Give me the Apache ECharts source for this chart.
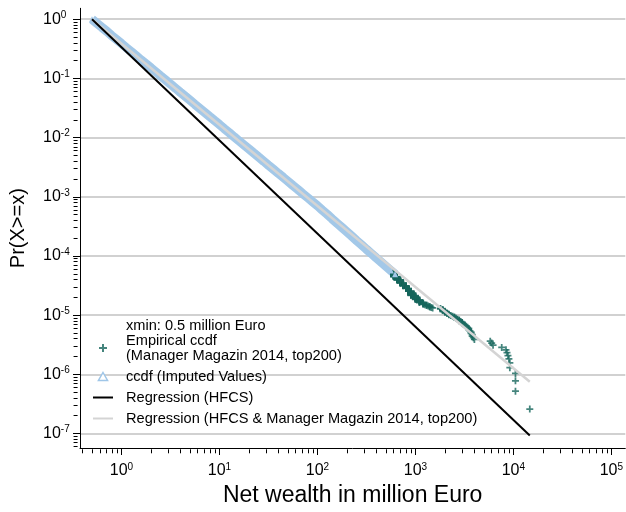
<!DOCTYPE html>
<html><head><meta charset="utf-8">
<script src="https://cdn.jsdelivr.net/npm/echarts@6/dist/echarts.min.js"></script>
<style>html,body{margin:0;padding:0;background:#fff}#c{width:626px;height:512px}</style>
</head><body><div id="c"></div>
<script>
// ---- axis ticks ----
const xMajorTicks = [1, 10, 100, 1000, 10000, 100000];
const yMajorTicks = [1e-7, 1e-6, 1e-5, 1e-4, 1e-3, 1e-2, 1e-1, 1];
const xRange = [0.377, 138700];
const yRange = [5.7e-8, 1.53];

// ---- Empirical ccdf: Manager Magazin 2014 top200 net wealth (million Euro), rank order ----
const mmWealth = [
  14700,
  10500, 10500, 10500,
  9200, 9200, 9000, 8800, 8600, 8400, 7600,
  6200, 6000, 5800,
  4000, 3900, 3800, 3800, 3700, 3700,
  3600, 3500, 3500, 3400, 3300, 3200, 3100, 3000, 3000, 2900,
  2800, 2800, 2700, 2600, 2500, 2500, 2400, 2300, 2200, 2200,
  2100, 2100, 2000, 2000, 2000, 1900, 1900, 1900, 1800, 1800,
  1500, 1450, 1400, 1400, 1350, 1300, 1300, 1250,
  1200, 1200, 1200, 1200,
  1100, 1100, 1100, 1100, 1100, 1100, 1100, 1100,
  1000, 1000, 1000, 1000, 1000, 1000, 1000, 1000, 1000, 1000, 1000, 1000,
  900, 900, 900, 900, 900, 900, 900, 900, 900, 900, 900, 900, 900, 900, 900, 900,
  850, 850, 850, 850, 850, 850, 850, 850, 850, 850,
  800, 800, 800, 800, 800, 800, 800, 800, 800, 800, 800, 800,
  750, 750, 750, 750, 750, 750, 750, 750, 750, 750, 750, 750, 750, 750,
  700, 700, 700, 700, 700, 700, 700, 700, 700, 700, 700, 700, 700, 700, 700, 700, 700,
  650, 650, 650, 650, 650, 650, 650, 650, 650, 650, 650, 650, 650, 650, 650, 650, 650, 650, 650, 650, 650,
  600, 600, 600, 600, 600, 600, 600, 600, 600, 600, 600, 600, 600, 600, 600, 600, 600, 600, 600, 600, 600, 600, 600, 600, 600, 600, 600, 600
];
const hfcsPopulation = 3.85e6; // Pr(X>=x) = rank / population

// ---- ccdf of imputed HFCS values ----
const imputedWealth = [0.5, 0.56, 0.63, 0.71, 0.79, 0.89, 1, 1.12, 1.26, 1.41, 1.58, 1.78, 2, 2.24, 2.51, 2.82, 3.16, 3.55, 3.98, 4.47,
  5.01, 5.62, 6.31, 7.08, 7.94, 8.91, 10, 11.2, 12.6, 14.1, 15.8, 17.8, 20, 22.4, 25.1, 28.2, 31.6, 35.5, 39.8, 44.7,
  50.1, 56.2, 63.1, 70.8, 79.4, 89.1, 100, 112, 126, 141, 158, 178, 200, 224, 251, 282, 316, 355, 398, 447, 501, 562, 620];
const imputedCcdf = [1.0, 0.854, 0.729, 0.623, 0.532, 0.454, 0.388, 0.331, 0.283, 0.242, 0.206, 0.176, 0.151, 0.129, 0.110, 0.0939, 0.0802, 0.0685, 0.0585, 0.0499,
  0.0427, 0.0364, 0.0311, 0.0266, 0.0227, 0.0194, 0.0166, 0.01414, 0.01208, 0.01031, 0.00881, 0.00752, 0.00643, 0.00549, 0.00469, 0.00400, 0.00342, 0.00292, 0.00249, 0.00213,
  0.00182, 0.00155, 0.00133, 0.00113, 0.000968, 0.000827, 0.000706, 0.000596, 0.000504, 0.000425, 0.000359, 0.000303, 0.000256, 0.000216, 0.000182, 0.000154, 0.000130, 0.000110, 0.0000927, 0.0000786, 0.0000667, 0.0000567, 0.0000492];

// ---- regression lines ----
const regWealth = [0.5, 14700];
const regHfcs = [1, 9.3e-8];
const regHfcsMm = [1, 7.5e-7];

const nameEmp = 'Empirical ccdf\n(Manager Magazin 2014, top200)';
const nameImp = 'ccdf (Imputed Values)';
const nameReg1 = 'Regression (HFCS)';
const nameReg2 = 'Regression (HFCS & Manager Magazin 2014, top200)';
const xminNote = 'xmin: 0.5 million Euro';

const fontFam = '"Liberation Sans", Arial, sans-serif';
const plusPath = 'path://M3,0H5V3H8V5H5V8H3V5H0V3H3Z';
const triPath = 'path://M4,0L8,7H0Z';
const linePath = 'path://M0,0H20V2H0Z';

function minorTicks(lo, hi) {
  const out = [];
  for (let e = Math.floor(Math.log10(lo)); e <= Math.ceil(Math.log10(hi)); e++) {
    for (let m = 2; m <= 9; m++) {
      const v = m * Math.pow(10, e);
      if (v >= lo && v <= hi) out.push(v);
    }
  }
  return out;
}
const supLabel = v => '{b|10}{s|' + Math.round(Math.log10(v)) + '}';
const richLbl = {
  b: { fontSize: 16, fontFamily: fontFam, color: '#000' },
  s: { fontSize: 10, fontFamily: fontFam, color: '#000', padding: [0, 0, 8, 0] }
};

const W = 626, H = 512;
const gL = 78.3, gR = 0, gT = 8.3, gB = 62.7;
const plotW = W - gL - gR, plotH = H - gT - gB;

const chart = echarts.init(document.getElementById('c'), null, { renderer: 'canvas' });
chart.setOption({
  animation: false,
  backgroundColor: '#fff',
  grid: { left: gL, right: gR, top: gT, bottom: gB, containLabel: false },
  xAxis: [{
    type: 'log', logBase: 10, min: xRange[0], max: xRange[1], position: 'bottom',
    name: 'Net wealth in million Euro', nameLocation: 'middle', nameGap: 36,
    nameTextStyle: { fontSize: 23, fontFamily: fontFam, color: '#000' },
    axisLine: { show: true, lineStyle: { color: '#000', width: 1 } },
    axisTick: { show: true, length: 7, customValues: xMajorTicks, lineStyle: { color: '#000', width: 1 } },
    axisLabel: { customValues: xMajorTicks, formatter: supLabel, margin: 14, rich: richLbl },
    splitLine: { show: false }
  }, {
    type: 'log', logBase: 10, min: xRange[0], max: xRange[1], position: 'top', offset: -plotH,
    axisLine: { show: false },
    axisTick: { show: true, inside: true, length: 4, customValues: minorTicks(xRange[0], xRange[1]), lineStyle: { color: '#000', width: 1 } },
    axisLabel: { show: false }, splitLine: { show: false }
  }],
  yAxis: [{
    type: 'log', logBase: 10, min: yRange[0], max: yRange[1], position: 'left',
    name: 'Pr(X>=x)', nameLocation: 'middle', nameGap: 52,
    nameTextStyle: { fontSize: 20, fontFamily: fontFam, color: '#000' },
    axisLine: { show: true, lineStyle: { color: '#000', width: 1 } },
    axisTick: { show: true, length: 7, customValues: yMajorTicks, lineStyle: { color: '#000', width: 1 } },
    axisLabel: { customValues: yMajorTicks, formatter: supLabel, margin: 37, align: 'left', rich: richLbl },
    splitLine: { show: true, lineStyle: { color: '#c2c2c2', width: 1.5 } }
  }, {
    type: 'log', logBase: 10, min: yRange[0], max: yRange[1], position: 'right', offset: -plotW,
    axisLine: { show: false },
    axisTick: { show: true, inside: true, length: 4, customValues: minorTicks(yRange[0], yRange[1]), lineStyle: { color: '#000', width: 1 } },
    axisLabel: { show: false }, splitLine: { show: false }
  }],
  legend: {
    orient: 'vertical', left: 93, top: 333, padding: 0, itemGap: 6, itemWidth: 20, itemHeight: 8,
    selectedMode: false,
    textStyle: { fontSize: 14.6, lineHeight: 15, fontFamily: fontFam, color: '#000', padding: [0, 0, 0, 8] },
    data: [
      { name: nameEmp, icon: plusPath },
      { name: nameImp, icon: triPath, itemStyle: { color: '#ffffff', borderColor: '#9fc6e8', borderWidth: 1.5 } },
      { name: nameReg1, icon: linePath },
      { name: nameReg2, icon: linePath }
    ]
  },
  graphic: [{
    type: 'text', left: 126, top: 318,
    style: { text: xminNote, fontSize: 14.6, fontFamily: fontFam, fill: '#000' }
  }],
  series: [{
    name: nameEmp, type: 'scatter', xAxisIndex: 0, yAxisIndex: 0, z: 2,
    symbol: plusPath, symbolSize: 7, color: '#17675c',
    itemStyle: { color: '#17675c' },
    data: mmWealth.map((w, i) => [w, (i + 1) / hfcsPopulation])
  }, {
    name: nameImp, type: 'line', xAxisIndex: 0, yAxisIndex: 0, z: 2,
    symbol: 'triangle', symbolSize: 6, showAllSymbol: true, color: '#a3c8e8',
    itemStyle: { color: '#a3c8e8' },
    lineStyle: { color: '#a3c8e8', width: 9 },
    data: imputedWealth.map((w, i) => [w, imputedCcdf[i]])
  }, {
    name: nameReg2, type: 'line', xAxisIndex: 0, yAxisIndex: 0, z: 5,
    symbol: 'none', color: '#d4d4d4',
    itemStyle: { color: '#d4d4d4' },
    lineStyle: { color: '#d4d4d4', width: 2.5 },
    data: regWealth.map((w, i) => [w, regHfcsMm[i]])
  }, {
    name: nameReg1, type: 'line', xAxisIndex: 0, yAxisIndex: 0, z: 6,
    symbol: 'none', color: '#000',
    itemStyle: { color: '#000' },
    lineStyle: { color: '#000', width: 2 },
    data: regWealth.map((w, i) => [w, regHfcs[i]])
  }]
});
</script>
</body></html>
